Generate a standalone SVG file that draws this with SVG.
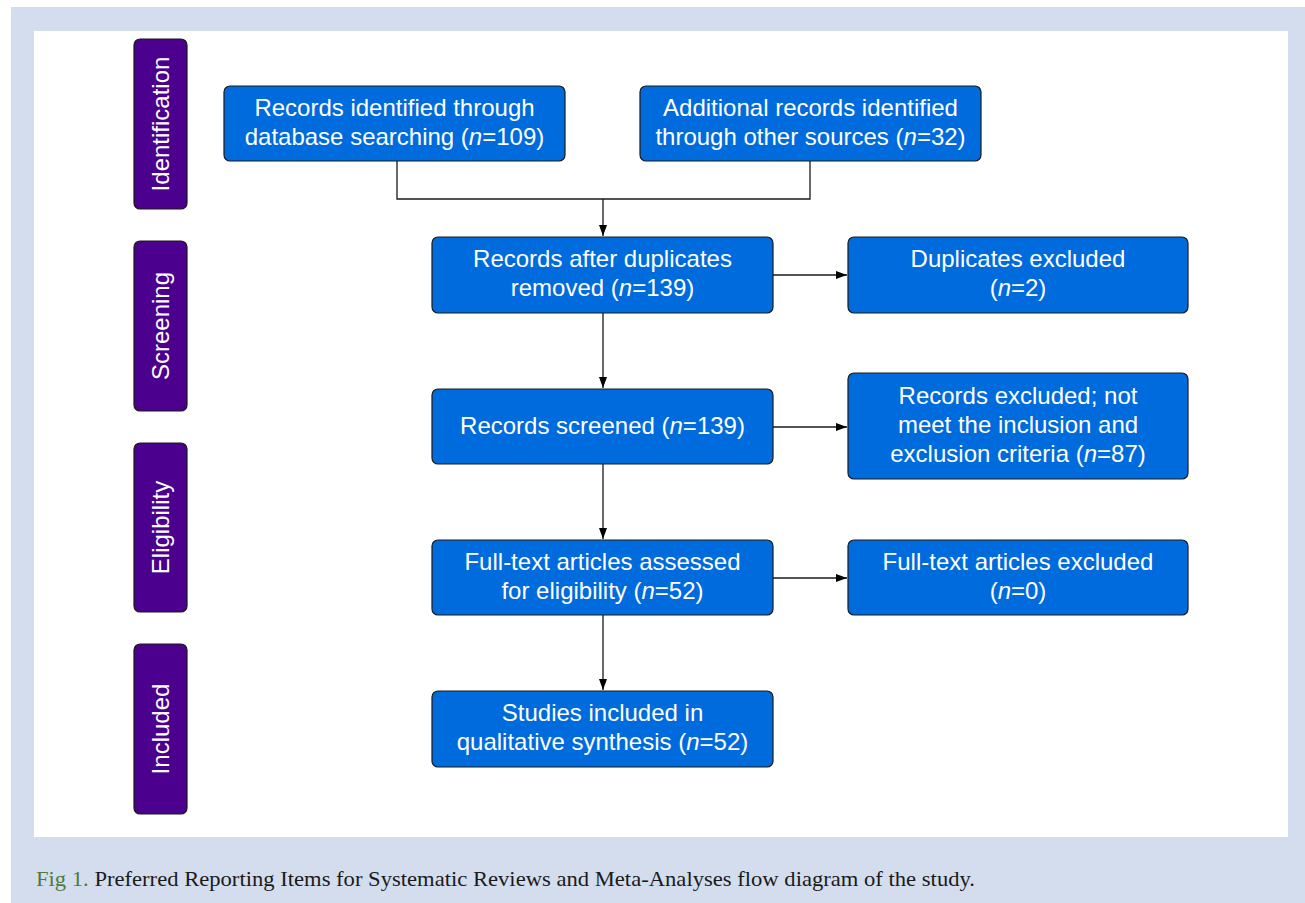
<svg xmlns="http://www.w3.org/2000/svg" width="1305" height="903" viewBox="0 0 1305 903">
<style>
.box{fill:#006bdc;stroke:#1a1a1a;stroke-width:1.2}
.stage{fill:#4b008e;stroke:#1a1a1a;stroke-width:1.2}
.t{font-family:"Liberation Sans",Arial,sans-serif;font-size:24px;fill:#ffffff;text-anchor:middle}
.c{fill:none;stroke:#1a1a1a;stroke-width:1.3}
</style>
<defs>
<marker id="ah" markerWidth="11" markerHeight="8" refX="11" refY="4" orient="auto" markerUnits="userSpaceOnUse">
<path d="M0,0 L11,4 L0,8 Z" fill="#000"/>
</marker>
</defs>
<rect x="0" y="0" width="1305" height="903" fill="#ffffff"/>
<rect x="11" y="7" width="1294" height="896" fill="#d4ddee"/>
<rect x="34" y="31" width="1254" height="806" fill="#ffffff"/>

<g id="stage-identification"><rect class="stage" x="134" y="39" width="53" height="170" rx="6"/><text class="t" transform="translate(169,124) rotate(-90)">Identification</text></g>
<g id="stage-screening"><rect class="stage" x="134" y="241" width="53" height="170" rx="6"/><text class="t" transform="translate(169,326) rotate(-90)">Screening</text></g>
<g id="stage-eligibility"><rect class="stage" x="134" y="443" width="53" height="169" rx="6"/><text class="t" transform="translate(169,527.5) rotate(-90)">Eligibility</text></g>
<g id="stage-included"><rect class="stage" x="134" y="644" width="53" height="170" rx="6"/><text class="t" transform="translate(169,729) rotate(-90)">Included</text></g>

<g id="connectors">
<path class="c" d="M397,161 V199 H810 V161"/>
<path class="c" d="M603,199 V236" marker-end="url(#ah)"/>
<path class="c" d="M773,275 H847" marker-end="url(#ah)"/>
<path class="c" d="M603,313 V388" marker-end="url(#ah)"/>
<path class="c" d="M773,427 H847" marker-end="url(#ah)"/>
<path class="c" d="M603,464 V539" marker-end="url(#ah)"/>
<path class="c" d="M773,578 H847" marker-end="url(#ah)"/>
<path class="c" d="M603,615 V690" marker-end="url(#ah)"/>
</g>

<g id="n1"><rect class="box" x="224" y="86" width="341" height="75" rx="6"/><text class="t" x="394.5" y="116">Records identified through</text><text class="t" x="394.5" y="145">database searching (<tspan font-style="italic">n</tspan>=109)</text></g>
<g id="n2"><rect class="box" x="640" y="86" width="341" height="75" rx="6"/><text class="t" x="810.5" y="116">Additional records identified</text><text class="t" x="810.5" y="145">through other sources (<tspan font-style="italic">n</tspan>=32)</text></g>
<g id="n3"><rect class="box" x="432" y="237" width="341" height="76" rx="6"/><text class="t" x="602.5" y="267">Records after duplicates</text><text class="t" x="602.5" y="296">removed (<tspan font-style="italic">n</tspan>=139)</text></g>
<g id="n4"><rect class="box" x="848" y="237" width="340" height="76" rx="6"/><text class="t" x="1018" y="267">Duplicates excluded</text><text class="t" x="1018" y="296">(<tspan font-style="italic">n</tspan>=2)</text></g>
<g id="n5"><rect class="box" x="432" y="389" width="341" height="75" rx="6"/><text class="t" x="602.5" y="434">Records screened (<tspan font-style="italic">n</tspan>=139)</text></g>
<g id="n6"><rect class="box" x="848" y="373" width="340" height="106" rx="6"/><text class="t" x="1018" y="404">Records excluded; not</text><text class="t" x="1018" y="433">meet the inclusion and</text><text class="t" x="1018" y="462">exclusion criteria (<tspan font-style="italic">n</tspan>=87)</text></g>
<g id="n7"><rect class="box" x="432" y="540" width="341" height="75" rx="6"/><text class="t" x="602.5" y="570">Full-text articles assessed</text><text class="t" x="602.5" y="599">for eligibility (<tspan font-style="italic">n</tspan>=52)</text></g>
<g id="n8"><rect class="box" x="848" y="540" width="340" height="75" rx="6"/><text class="t" x="1018" y="570">Full-text articles excluded</text><text class="t" x="1018" y="599">(<tspan font-style="italic">n</tspan>=0)</text></g>
<g id="n9"><rect class="box" x="432" y="691" width="341" height="76" rx="6"/><text class="t" x="602.5" y="721">Studies included in</text><text class="t" x="602.5" y="750">qualitative synthesis (<tspan font-style="italic">n</tspan>=52)</text></g>

<text x="36" y="886" font-family="'Liberation Serif','DejaVu Serif',serif" font-size="21px" fill="#1a1a1a" textLength="939" lengthAdjust="spacingAndGlyphs"><tspan fill="#4a7b3c">Fig 1.</tspan> Preferred Reporting Items for Systematic Reviews and Meta-Analyses flow diagram of the study.</text>
</svg>
